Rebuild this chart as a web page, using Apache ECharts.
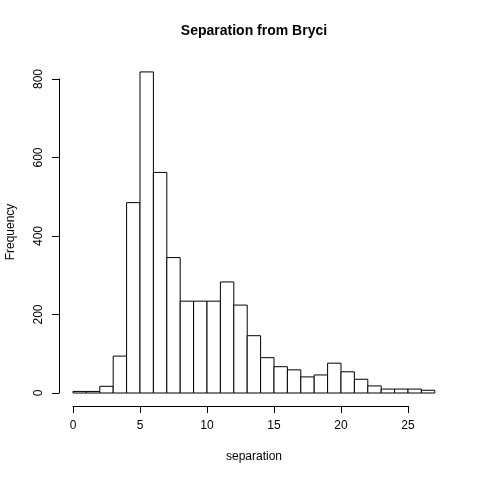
<!DOCTYPE html>
<html>
<head>
<meta charset="utf-8">
<script src="https://cdn.jsdelivr.net/npm/echarts@6/dist/echarts.min.js"></script>
<style>
  html, body { margin: 0; padding: 0; background: #fff; }
  #chart { width: 480px; height: 480px; }
</style>
</head>
<body>
<div id="chart"></div>
<script>
// histogram bins: left edges (width 1) and counts
const binStarts = [0, 1, 2, 3, 4, 5, 6, 7, 8, 9, 10, 11, 12, 13, 14, 15, 16, 17, 18, 19, 20, 21, 22, 23, 24, 25, 26];
const counts = [4, 4, 17, 94, 485, 818, 562, 345, 234, 234, 234, 283, 224, 146, 90, 67, 59, 41, 46, 76, 54, 35, 18, 10, 10, 10, 7];
const xTicks = [0, 5, 10, 15, 20, 25];
const yTicks = [0, 200, 400, 600, 800];

const font = "'Liberation Sans', Arial, sans-serif";
const chart = echarts.init(document.getElementById("chart"));

const bins = binStarts.map((s, i) => [s, s + 1, counts[i]]);

chart.setOption({
  animation: false,
  backgroundColor: "#fff",
  grid: { left: 73, right: 72, top: 79, bottom: 87 },
  xAxis: {
    type: "value",
    min: xTicks[0],
    max: xTicks[xTicks.length - 1],
    interval: 5,
    offset: 13,
    axisLine: { show: true, onZero: false, lineStyle: { color: "#000", width: 1 } },
    axisTick: { show: true, length: 7, lineStyle: { color: "#000" } },
    axisLabel: { color: "#000", fontFamily: font, fontSize: 12, margin: 14 },
    splitLine: { show: false },
  },
  yAxis: {
    type: "value",
    min: yTicks[0],
    max: yTicks[yTicks.length - 1],
    interval: 200,
    offset: 14,
    axisLine: { show: true, onZero: false, lineStyle: { color: "#000", width: 1 } },
    axisTick: { show: true, length: 7, lineStyle: { color: "#000" } },
    axisLabel: { color: "#000", fontFamily: font, fontSize: 12, rotate: 90, margin: 14 },
    splitLine: { show: false },
  },
  series: [
    {
      type: "custom",
      clip: false,
      data: bins,
      renderItem: function (params, api) {
        const p0 = api.coord([api.value(0), 0]);
        const p1 = api.coord([api.value(1), api.value(2)]);
        return {
          type: "rect",
          shape: { x: p0[0], y: p1[1], width: p1[0] - p0[0], height: p0[1] - p1[1] },
          style: { fill: "#fff", stroke: "#000", lineWidth: 1 },
        };
      },
    },
  ],
  graphic: [
    {
      type: "text",
      x: 254, y: 31,
      style: { text: "Separation from Bryci", font: "bold 14px " + font, fill: "#000", align: "center", verticalAlign: "middle" },
    },
    {
      type: "text",
      x: 254, y: 457,
      style: { text: "separation", font: "12px " + font, fill: "#000", align: "center", verticalAlign: "middle" },
    },
    {
      type: "text",
      x: 11, y: 232, rotation: Math.PI / 2,
      style: { text: "Frequency", font: "12px " + font, fill: "#000", align: "center", verticalAlign: "middle" },
    },
  ],
});
</script>
</body>
</html>
